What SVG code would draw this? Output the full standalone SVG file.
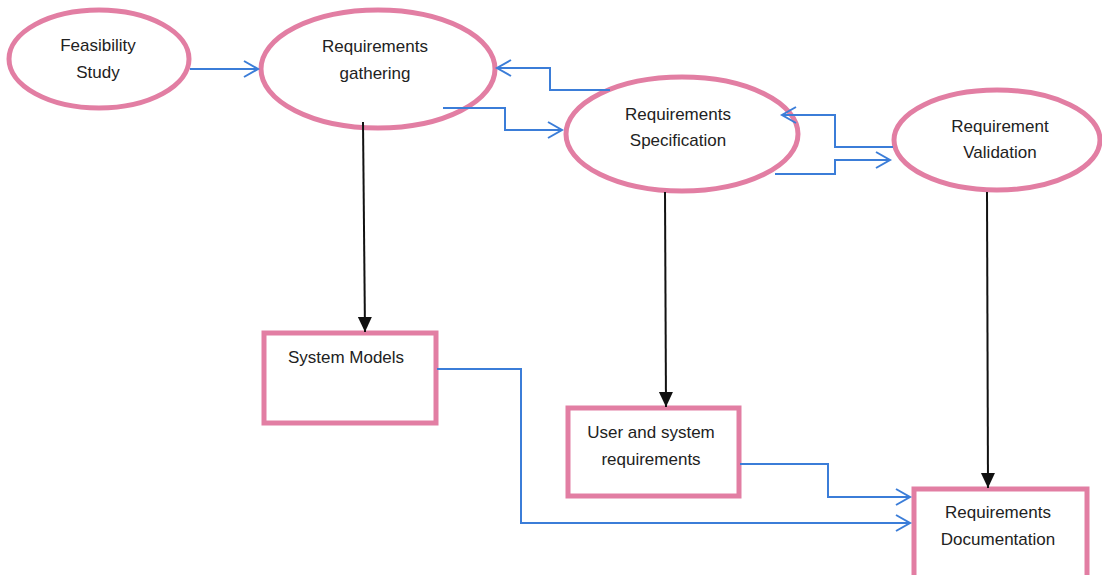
<svg xmlns="http://www.w3.org/2000/svg" width="1102" height="575" viewBox="0 0 1102 575">
<defs>
<style>
.node{fill:#fff;stroke:#e27ea3;stroke-width:5}
.lbl{font-family:"Liberation Sans",Arial,sans-serif;font-size:17px;fill:#222;text-anchor:middle}
.blue{fill:none;stroke:#3b7dd8;stroke-width:2;marker-end:url(#open)}
.black{fill:none;stroke:#111;stroke-width:2;marker-end:url(#solid)}
</style>
<marker id="open" markerUnits="userSpaceOnUse" markerWidth="16" markerHeight="20" refX="15" refY="9" orient="auto" overflow="visible">
<path d="M1,1 L15,9 L1,17" fill="none" stroke="#3b7dd8" stroke-width="2"/>
</marker>
<marker id="solid" markerUnits="userSpaceOnUse" markerWidth="16" markerHeight="16" refX="15" refY="7" orient="auto" overflow="visible">
<path d="M0,0 L15,7 L0,14 z" fill="#111"/>
</marker>
</defs>
<rect width="1102" height="575" fill="#fff"/>
<g id="feasibility">
<ellipse class="node" cx="99" cy="59" rx="90" ry="49"/>
<text class="lbl" x="98" y="51">Feasibility</text>
<text class="lbl" x="98" y="78">Study</text>
</g>
<g id="gathering">
<ellipse class="node" cx="378" cy="69" rx="117" ry="59"/>
<text class="lbl" x="375" y="52">Requirements</text>
<text class="lbl" x="375" y="79">gathering</text>
</g>
<g id="specification">
<ellipse class="node" cx="682" cy="134" rx="116" ry="57"/>
<text class="lbl" x="678" y="120">Requirements</text>
<text class="lbl" x="678" y="146">Specification</text>
</g>
<g id="validation">
<ellipse class="node" cx="997" cy="140" rx="103" ry="50"/>
<text class="lbl" x="1000" y="132">Requirement</text>
<text class="lbl" x="1000" y="158">Validation</text>
</g>
<g id="system-models">
<rect class="node" x="264" y="333" width="172" height="90"/>
<text class="lbl" x="346" y="363">System Models</text>
</g>
<g id="user-system">
<rect class="node" x="568" y="408" width="171" height="88"/>
<text class="lbl" x="651" y="438">User and system</text>
<text class="lbl" x="651" y="465">requirements</text>
</g>
<g id="documentation">
<rect class="node" x="914" y="489" width="173" height="90"/>
<text class="lbl" x="998" y="518">Requirements</text>
<text class="lbl" x="998" y="545">Documentation</text>
</g>
<g id="connectors">
<path class="blue" d="M190,69 L258,69"/>
<path class="blue" d="M610,90 L550,90 L550,68 L497,68"/>
<path class="blue" d="M443,108 L505,108 L505,130 L562,130"/>
<path class="blue" d="M893,147 L835,147 L835,115 L782,115"/>
<path class="blue" d="M775,174 L835,174 L835,160 L890,160"/>
<path class="blue" d="M437,369 L521,369 L521,523 L910,523"/>
<path class="blue" d="M740,464 L828,464 L828,497 L910,497"/>
<path class="black" d="M363,122 L365,332"/>
<path class="black" d="M665,192 L666,407"/>
<path class="black" d="M987,192 L988,488"/>
</g>
</svg>
